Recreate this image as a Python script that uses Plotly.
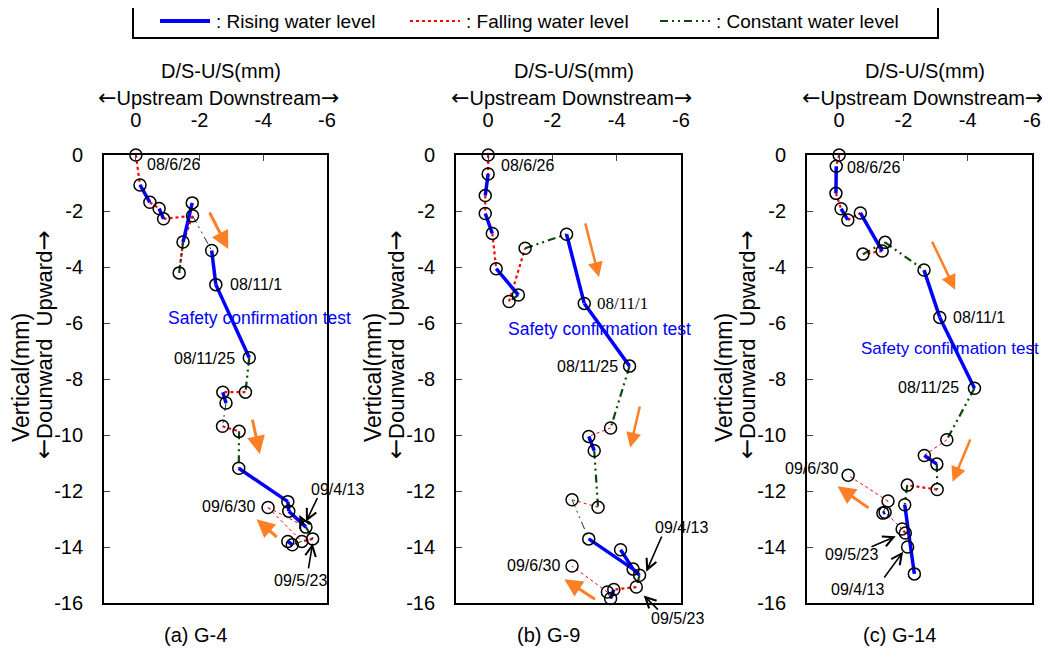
import plotly.graph_objects as go

# ---------------- data (mm) ----------------
# Panel (a) G-4
xa = [0.0, -0.13, -0.44, -0.73, -0.87, -1.77, -1.78, -1.48, -1.36, -2.38, -2.51, -3.56, -3.44,
      -2.73, -2.83, -2.72, -3.24, -3.23, -4.77, -4.80, -5.34, -5.55, -5.21, -4.77, -4.91, -4.15]
ya = [0.0, -1.07, -1.69, -1.91, -2.28, -1.71, -2.17, -3.11, -4.21, -3.41, -4.63, -7.24, -8.47,
      -8.47, -8.86, -9.69, -9.87, -11.19, -12.38, -12.72, -13.29, -13.71, -13.80, -13.80, -13.92, -12.59]
seg_a = [(0, 1, 'F'), (1, 2, 'R'), (2, 3, 'F'), (3, 4, 'R'), (4, 6, 'F'), (6, 7, 'F'), (7, 8, 'F'),
         (8, 7, 'C'), (7, 5, 'R'), (6, 9, 'c'), (9, 10, 'R'), (10, 11, 'R'), (11, 12, 'C'),
         (12, 13, 'F'), (13, 14, 'R'), (14, 15, 'c'), (15, 16, 'F'), (16, 17, 'C'), (17, 18, 'R'),
         (18, 19, 'R'), (19, 20, 'R'), (20, 21, 'C'), (21, 22, 'F'), (22, 24, 'c'), (23, 24, 'R'),
         (25, 20, 'f'), (25, 22, 'f')]

# Panel (b) G-9
xb = [0.0, 0.0, 0.09, 0.09, -0.13, -0.25, -0.94, -0.65, -1.15, -2.44, -2.99, -4.40, -3.81,
      -3.13, -3.30, -3.42, -2.61, -3.13, -4.12, -4.51, -4.71, -4.61, -3.91, -3.71, -3.81, -2.61]
yb = [0.0, -0.68, -1.45, -2.09, -2.80, -4.06, -5.00, -5.23, -3.33, -2.83, -5.30, -7.54, -9.75,
      -10.05, -10.56, -12.58, -12.31, -13.71, -14.10, -14.79, -15.01, -15.43, -15.52, -15.61, -15.84, -14.68]
seg_b = [(0, 1, 'F'), (1, 2, 'R'), (2, 3, 'F'), (3, 4, 'R'), (4, 5, 'F'), (5, 6, 'R'), (6, 7, 'C'),
         (7, 8, 'F'), (8, 9, 'C'), (9, 10, 'R'), (10, 11, 'R'), (11, 12, 'C'), (12, 13, 'f'),
         (13, 14, 'R'), (14, 15, 'C'), (15, 16, 'f'), (16, 17, 'c'), (17, 19, 'R'), (18, 19, 'R'),
         (19, 20, 'R'), (20, 21, 'C'), (21, 22, 'F'), (22, 24, 'R'), (24, 23, 'c'), (23, 25, 'f')]

# Panel (c) G-14
xc = [0.0, 0.09, 0.10, -0.06, -0.27, -0.66, -1.43, -1.34, -0.74, -2.64, -3.13, -4.21, -3.35,
      -2.65, -3.04, -3.05, -2.12, -2.04, -1.52, -1.43, -1.36, -1.96, -2.06, -2.13, -2.34, -0.28]
yc = [0.0, -0.40, -1.37, -1.92, -2.32, -2.07, -3.12, -3.43, -3.54, -4.11, -5.80, -8.33, -10.17,
      -10.73, -11.04, -11.95, -11.79, -12.49, -12.36, -12.76, -12.79, -13.36, -13.50, -14.00, -14.96, -11.44]
seg_c = [(0, 1, 'F'), (1, 2, 'R'), (2, 3, 'F'), (3, 4, 'R'), (4, 5, 'F'), (5, 7, 'R'), (7, 8, 'F'),
         (8, 6, 'C'), (6, 9, 'C'), (9, 10, 'R'), (10, 11, 'R'), (11, 12, 'C'), (12, 13, 'f'),
         (13, 14, 'R'), (14, 15, 'C'), (15, 16, 'F'), (16, 17, 'C'), (17, 24, 'R'), (22, 21, 'F'),
         (21, 19, 'f'), (19, 20, 'R'), (20, 18, 'c'), (18, 25, 'f')]

x_ticks = [0, -2, -4, -6]
x_tick_text = ['0', '-2', '-4', '-6']
y_ticks = [0, -2, -4, -6, -8, -10, -12, -14, -16]
y_tick_text = ['0', '-2', '-4', '-6', '-8', '-10', '-12', '-14', '-16']
panel_names = ['(a) G-4', '(b) G-9', '(c) G-14']
legend_names = [': Rising water level', ': Falling water level', ': Constant water level']

# ---------------- styles ----------------
W, H = 1050, 658          # browser window
OFF = 8                   # default page body margin
FW, FH = W - OFF, H - OFF  # figure size
FONT = 'Arial, "Liberation Sans", sans-serif'
GREEN_DASH = '8px,4px,2px,4px,2px,4px'
STY = {
    'R': dict(color='#0000FF', width=3.5, dash='solid'),
    'F': dict(color='#FF0000', width=2.2, dash='3px,3px'),
    'f': dict(color='#FF0000', width=1.0, dash='3px,3px'),
    'C': dict(color='#0A4A0A', width=2.2, dash=GREEN_DASH),
    'c': dict(color='#0A4A0A', width=1.0, dash=GREEN_DASH),
}
X_RANGE = [1, -6]
Y_RANGE = [-16, 0]

# pixel geometry (window pixels) of the three plot boxes
px_left = [104, 456, 807]
px_right = [327, 681, 1032]
px_top, px_bot = 155, 603


def fx(px):
    return (px - OFF) / FW


def fy(py):
    return 1 - (py - OFF) / FH


fig = go.Figure()

panels = [(xa, ya, seg_a), (xb, yb, seg_b), (xc, yc, seg_c)]
for p, (xs, ys, segs) in enumerate(panels):
    xref = 'x' if p == 0 else f'x{p+1}'
    yref = 'y' if p == 0 else f'y{p+1}'
    for key in ['f', 'c', 'F', 'C', 'R']:
        lx, ly = [], []
        for i, j, t in segs:
            if t == key:
                lx += [xs[i], xs[j], None]
                ly += [ys[i], ys[j], None]
        if lx:
            fig.add_trace(go.Scatter(x=lx, y=ly, mode='lines', line=STY[key], xaxis=xref, yaxis=yref,
                                     showlegend=False, hoverinfo='skip', cliponaxis=False))
    fig.add_trace(go.Scatter(x=xs, y=ys, mode='markers', xaxis=xref, yaxis=yref, showlegend=False,
                             marker=dict(symbol='circle-open', size=12, color='black', line=dict(width=1.5)),
                             cliponaxis=False))

layout = dict(
    width=FW, height=FH, margin=dict(l=0, r=0, t=0, b=0, autoexpand=False), autosize=False,
    plot_bgcolor='white', paper_bgcolor='white', showlegend=False,
    font=dict(family=FONT, color='black', size=20),
)
for p in range(3):
    sx = '' if p == 0 else str(p + 1)
    layout['xaxis' + sx] = dict(
        domain=[fx(px_left[p]), fx(px_right[p])], range=X_RANGE, anchor='y' + sx, side='top',
        tickvals=x_ticks, ticktext=x_tick_text, ticks='inside', ticklen=6, tickwidth=1.2,
        showline=True, linecolor='black', linewidth=1.8, mirror=True, showgrid=False, zeroline=False,
        tickfont=dict(size=20), ticklabelstandoff=18)
    layout['yaxis' + sx] = dict(
        domain=[fy(px_bot), fy(px_top)], range=Y_RANGE, anchor='x' + sx,
        tickvals=y_ticks, ticktext=y_tick_text, ticks='inside', ticklen=6, tickwidth=1.2,
        showline=True, linecolor='black', linewidth=1.8, mirror=True, showgrid=False, zeroline=False,
        tickfont=dict(size=20), ticklabelstandoff=15)
fig.update_layout(**layout)


def to_px(p, x, y):
    """data value -> window pixel position for panel p (for placing decorations)"""
    gx = (X_RANGE[0] - x) / (X_RANGE[0] - X_RANGE[1])
    gy = (Y_RANGE[1] - y) / (Y_RANGE[1] - Y_RANGE[0])
    return px_left[p] + gx * (px_right[p] - px_left[p]), px_top + gy * (px_bot - px_top)


ann = []
shapes = []


def ptext(px, py, s, size=18, anchor='center', angle=0, color='black', family=FONT):
    ann.append(dict(xref='paper', yref='paper', x=fx(px), y=fy(py), text=s, showarrow=False,
                    xanchor=anchor, yanchor='middle', textangle=angle,
                    font=dict(size=size, color=color, family=family)))


def LA(sz):
    return f"<span style='font-family:DejaVu Sans;font-size:{sz}px'>←</span>"


def RA(sz):
    return f"<span style='font-family:DejaVu Sans;font-size:{sz}px'>→</span>"


# legend (drawn box)
shapes.append(dict(type='rect', xref='paper', yref='paper', x0=fx(133), x1=fx(938), y0=fy(38), y1=fy(3),
                   line=dict(color='black', width=2), fillcolor='white'))
leg_x = [160, 410, 660]
for k, key in enumerate(['R', 'F', 'C']):
    st = dict(STY[key])
    if key == 'R':
        st['width'] = 4
    shapes.append(dict(type='line', xref='paper', yref='paper', x0=fx(leg_x[k]), x1=fx(leg_x[k] + 50),
                       y0=fy(21), y1=fy(21), line=st))
    ptext(leg_x[k] + 54, 21, legend_names[k], size=19, anchor='left')

# axis titles
for p in range(3):
    cx = (px_left[p] + px_right[p]) / 2
    ptext(cx + 5, 71, 'D/S-U/S(mm)', size=20)
    ptext(cx + 2.5, 98, LA(22) + 'Upstream Downstream' + RA(22), size=20)
    ptext(px_left[p] - 83, 378, 'Vertical(mm)', size=23, angle=-90)
    ptext(px_left[p] - 60, 345, LA(24) + 'Dounward  Upward' + RA(24), size=22, angle=-90)
    ptext(cx - 20, 635, panel_names[p], size=20)


def txt(p, x, y, s, anchor='left', color='black', size=16, family=FONT):
    px, py = to_px(p, x, y)
    ptext(px, py, s, size=size, anchor=anchor, color=color, family=family)


def arr(p, x0, y0, x1, y1, color, width, head, size):
    hx, hy = to_px(p, x1, y1)
    tx, ty = to_px(p, x0, y0)
    ann.append(dict(xref='paper', yref='paper', x=fx(hx), y=fy(hy), ax=tx - hx, ay=ty - hy,
                    text='', showarrow=True, arrowcolor=color, arrowwidth=width, arrowhead=head,
                    arrowsize=size))


ORANGE = '#FF7F27'
BLUE = '#0000FF'
# panel a
txt(0, -0.28, -0.33, '08/6/26')
txt(0, -2.90, -4.62, '08/11/1')
txt(0, -3.89, -5.82, 'Safety confirmation test', 'center', BLUE, 17.5)
txt(0, -3.16, -7.26, '08/11/25', 'right')
txt(0, -3.79, -12.56, '09/6/30', 'right')
txt(0, -5.43, -11.96, '09/4/13')
txt(0, -5.18, -15.18, '09/5/23', 'center')
arr(0, -2.29, -2.0, -2.90, -3.36, ORANGE, 3, 2, 1.2)
arr(0, -3.65, -9.40, -3.89, -10.68, ORANGE, 3, 2, 1.2)
arr(0, -4.47, -13.69, -3.79, -13.01, ORANGE, 3, 2, 1.2)
arr(0, -5.72, -12.20, -5.34, -13.10, 'black', 1.6, 5, 1.3)
arr(0, -5.41, -14.82, -5.55, -13.87, 'black', 1.6, 5, 1.3)
arr(0, -5.31, -13.27, -5.13, -12.86, 'black', 1.6, 5, 1.3)
# panel b
txt(1, -0.35, -0.39, '08/6/26')
txt(1, -3.32, -5.30, '08/11/1', family='"Times New Roman", "Liberation Serif", serif', size=17)
txt(1, -3.47, -6.21, 'Safety confirmation test', 'center', BLUE, 17.5)
txt(1, -4.09, -7.55, '08/11/25', 'right')
txt(1, -2.29, -14.65, '09/6/30', 'right')
txt(1, -6.02, -13.32, '09/4/13', 'center')
txt(1, -5.89, -16.54, '09/5/23', 'center')
arr(1, -3.01, -2.39, -3.45, -4.36, ORANGE, 2.5, 2, 1.2)
arr(1, -4.73, -8.93, -4.42, -10.45, ORANGE, 2.5, 2, 1.2)
arr(1, -3.37, -15.90, -2.37, -15.15, ORANGE, 3, 2, 1.2)
arr(1, -5.42, -13.57, -4.92, -14.88, 'black', 1.6, 5, 1.3)
arr(1, -5.33, -16.29, -4.84, -15.73, 'black', 1.6, 5, 1.3)
# panel c
txt(2, -0.19, -0.44, '08/6/26')
txt(2, -3.48, -5.82, '08/11/1')
txt(2, -3.45, -6.90, 'Safety confirmation test', 'center', BLUE, 17)
txt(2, -3.79, -8.30, '08/11/25', 'right')
txt(2, -0.03, -11.21, '09/6/30', 'right')
txt(2, -0.37, -14.25, '09/5/23', 'center')
txt(2, -0.57, -15.50, '09/4/13', 'center')
arr(2, -2.87, -3.04, -3.61, -4.81, ORANGE, 2.5, 2, 1.2)
arr(2, -4.10, -10.11, -3.53, -11.67, ORANGE, 2.5, 2, 1.2)
arr(2, -0.96, -12.64, 0.05, -11.83, ORANGE, 3, 2, 1.2)
arr(2, -0.96, -14.01, -1.76, -13.62, 'black', 1.6, 5, 1.3)
arr(2, -1.37, -15.14, -1.99, -14.17, 'black', 1.6, 5, 1.3)

fig.update_layout(annotations=ann, shapes=shapes)
fig.write_html('out.html')
